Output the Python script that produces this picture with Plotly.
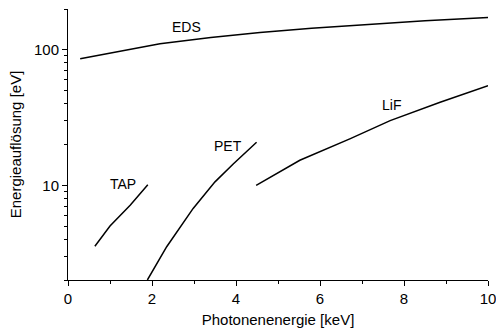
import math
import plotly.graph_objects as go

# Energy resolution of EDS and WDS crystals vs photon energy
eds_x = [0.29, 1.0, 2.19, 3.4, 4.57, 5.8, 6.95, 8.5, 10.0]
eds_y = [85.9, 95.0, 111.0, 123.0, 134.0, 144.0, 153.0, 164.0, 173.0]

tap_x = [0.64, 1.0, 1.48, 1.9]
tap_y = [3.55, 5.0, 7.13, 10.1]

pet_x = [1.89, 2.35, 2.98, 3.5, 3.94, 4.49]
pet_y = [2.0, 3.52, 6.75, 10.6, 14.4, 20.8]

lif_x = [4.48, 5.52, 6.71, 7.67, 8.86, 10.0]
lif_y = [10.0, 15.3, 22.0, 30.0, 41.0, 54.4]

labels = ["EDS", "TAP", "PET", "LiF"]
label_x = [2.83, 1.31, 3.81, 7.71]
label_y = [147.0, 10.2, 19.4, 39.4]

x_ticks = [0, 2, 4, 6, 8, 10]
y_ticks = [10, 100]
y_minor = [2, 3, 4, 5, 6, 7, 8, 9, 20, 30, 40, 50, 60, 70, 80, 90, 200]

fig = go.Figure()
for xs, ys in [(eds_x, eds_y), (tap_x, tap_y), (pet_x, pet_y), (lif_x, lif_y)]:
    fig.add_trace(go.Scatter(x=xs, y=ys, mode="lines",
                             line=dict(color="black", width=1.5),
                             showlegend=False, hoverinfo="skip"))

# annotations on a log axis take log10 positions
for t, lx, ly in zip(labels, label_x, label_y):
    fig.add_annotation(x=lx, y=math.log10(ly), text=t, showarrow=False,
                       font=dict(size=14, color="black"))

font = "Liberation Sans, Arial, sans-serif"
fig.update_layout(
    width=496, height=333,
    margin=dict(l=68, r=8, t=9, b=53),
    paper_bgcolor="white", plot_bgcolor="white",
    font=dict(family=font, size=14, color="black"),
    xaxis=dict(range=[0, 10], tickvals=x_ticks, ticks="outside", ticklen=5,
               tickwidth=1, tickcolor="black", showline=True, linecolor="black",
               linewidth=1, showgrid=False, zeroline=False, automargin=False,
               ticklabeloverflow="allow",
               tickfont=dict(size=15, color="black"),
               minor=dict(tickvals=[1, 3, 5, 7, 9], ticks="outside", ticklen=3,
                          tickcolor="black", showgrid=False),
               title=dict(text="Photonenenergie [keV]",
                          font=dict(size=15, color="black"), standoff=8)),
    yaxis=dict(type="log", range=[0.30103, 2.30103], tickvals=y_ticks,
               ticktext=["10", "100"], ticks="outside", ticklen=5, tickwidth=1,
               tickcolor="black", showline=True, linecolor="black", linewidth=1,
               showgrid=False, zeroline=False, automargin=False,
               tickfont=dict(size=15, color="black"),
               minor=dict(tickvals=y_minor, ticks="outside", ticklen=3,
                          tickcolor="black", showgrid=False),
               title=dict(text="Energieauflösung [eV]",
                          font=dict(size=15, color="black"), standoff=8)),
)

fig.write_html("out.html")
